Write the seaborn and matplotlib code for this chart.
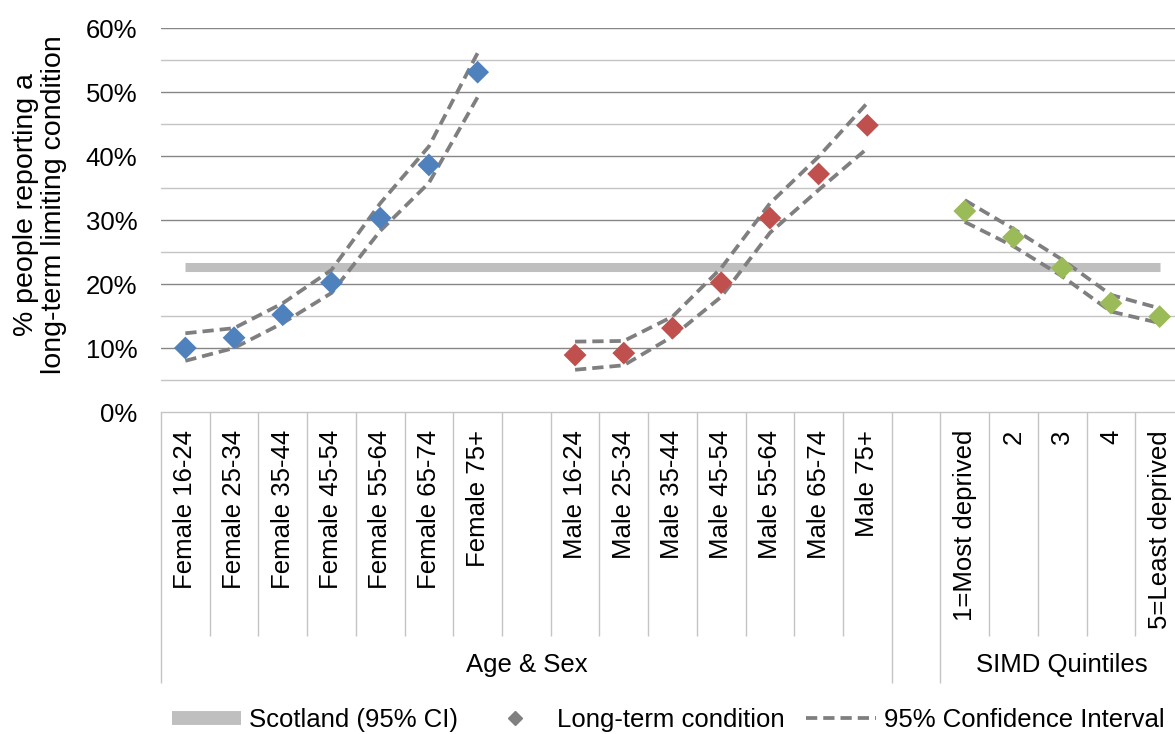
import matplotlib
matplotlib.use('Agg')
import matplotlib.pyplot as plt
import numpy as np
import pandas as pd
import seaborn as sns
from matplotlib.lines import Line2D
from matplotlib.ticker import FixedLocator, PercentFormatter, NullFormatter

# ---- data (percent) ----
categories = [
  'Female 16-24', 'Female 25-34', 'Female 35-44', 'Female 45-54',
  'Female 55-64', 'Female 65-74', 'Female 75+', '',
  'Male 16-24', 'Male 25-34', 'Male 35-44', 'Male 45-54',
  'Male 55-64', 'Male 65-74', 'Male 75+', '',
  '1=Most deprived', '2', '3', '4', '5=Least deprived',
]
groups = ['Female'] * 7 + [None] + ['Male'] * 7 + [None] + ['SIMD'] * 5

female_val = [10.0, 11.6, 15.2, 20.2, 30.3, 38.6, 53.1]
female_lo = [8.0, 10.0, 13.9, 18.6, 28.3, 35.8, 49.2]
female_hi = [12.3, 13.1, 17.0, 22.2, 32.6, 41.5, 56.1]

male_val = [8.9, 9.2, 13.1, 20.2, 30.3, 37.2, 44.8]
male_lo = [6.6, 7.3, 11.8, 18.0, 28.0, 34.7, 41.2]
male_hi = [11.0, 11.1, 14.9, 22.5, 32.6, 39.9, 48.3]

simd_val = [31.4, 27.3, 22.5, 17.0, 14.9]
simd_lo = [29.7, 25.9, 21.2, 15.7, 13.9]
simd_hi = [33.1, 28.6, 23.8, 18.3, 16.2]

scotland = 22.6

group_labels = ['Age & Sex', 'SIMD Quintiles']

# ---- frames ----
rows = []
ci_rows = []
for g, val, lo, hi in [('Female', female_val, female_lo, female_hi),
                       ('Male', male_val, male_lo, male_hi),
                       ('SIMD', simd_val, simd_lo, simd_hi)]:
  pos = [i for i, gg in enumerate(groups) if gg == g]
  for p, v, l, h in zip(pos, val, lo, hi):
    rows.append({'pos': p, 'value': v, 'group': g})
    ci_rows.append({'pos': p, 'value': l, 'series': g + ' lower'})
    ci_rows.append({'pos': p, 'value': h, 'series': g + ' upper'})
points = pd.DataFrame(rows)
ci = pd.DataFrame(ci_rows)
scot = pd.DataFrame({'pos': [0, len(categories) - 1], 'value': [scotland] * 2})

palette = {'Female': '#4F81BD', 'Male': '#C0504D', 'SIMD': '#9BBB59'}

sns.set_theme(style='white')
plt.rcParams.update({
  'font.family': ['Liberation Sans', 'DejaVu Sans'],
  'font.size': 18.5,
  'text.color': 'black',
  'xtick.color': 'black',
  'ytick.color': 'black',
})

W, H = 1175, 734
fig = plt.figure(figsize=(W / 100, H / 100), dpi=100)
left, right, top, bottom = 161, 1184, 28, 412
ax = fig.add_axes([left / W, 1 - bottom / H, (right - left) / W, (bottom - top) / H])

sns.lineplot(data=scot, x='pos', y='value', ax=ax, color='#BFBFBF',
             linewidth=6.5, solid_capstyle='butt', zorder=3)
sns.lineplot(data=ci, x='pos', y='value', units='series', estimator=None, ax=ax,
             color='#7F7F7F', linewidth=2.7, linestyle=(0, (3.0, 1.6)), zorder=4)
sns.scatterplot(data=points, x='pos', y='value', hue='group', palette=palette,
                marker='D', s=135, linewidth=0, ax=ax, legend=False, zorder=5)

ax.set_xlim(-0.5, len(categories) - 0.5)
ax.set_ylim(0, 60)
ax.set_xlabel('')
ax.set_ylabel('')

# y axis
ax.yaxis.set_major_locator(FixedLocator(np.arange(0, 61, 10)))
ax.yaxis.set_minor_locator(FixedLocator(np.arange(5, 60, 10)))
ax.yaxis.set_major_formatter(PercentFormatter(100, decimals=0))
ax.tick_params(axis='y', which='both', left=False, length=0, pad=17,
               labelsize=18.5, labelcolor='black')
ax.grid(True, axis='y', which='major', color='#868686', linewidth=1.0)
ax.grid(True, axis='y', which='minor', color='#C4C4C4', linewidth=1.0)
ax.get_ygridlines()[0].set_visible(False)

# x axis: category boundary ticks, longer at group boundaries
bounds = np.arange(-0.5, len(categories), 1.0)
group_bounds = [-0.5, 14.5, 15.5, 20.5]
ax.xaxis.set_major_locator(FixedLocator(group_bounds))
ax.xaxis.set_minor_locator(FixedLocator([b for b in bounds if b not in group_bounds]))
ax.xaxis.set_major_formatter(NullFormatter())
ax.xaxis.set_minor_formatter(NullFormatter())
ax.tick_params(axis='x', which='major', bottom=True, length=195, width=1.0,
               color='#C4C4C4', direction='out')
ax.tick_params(axis='x', which='minor', bottom=True, length=161, width=1.0,
               color='#C4C4C4', direction='out')

for s in ['left', 'right', 'top']:
  ax.spines[s].set_visible(False)
ax.spines['bottom'].set_color('#C4C4C4')
ax.spines['bottom'].set_linewidth(1.0)

for i, lab in enumerate(categories):
  if lab:
    ax.annotate(lab, xy=(i, 0), xycoords=('data', 'axes fraction'),
                xytext=(0, -13), textcoords='offset points',
                rotation=90, ha='center', va='top', fontsize=18.5, color='black')

ax.annotate(group_labels[0], xy=(7, 0), xycoords=('data', 'axes fraction'),
            xytext=(0, -182), textcoords='offset points', ha='center', va='center',
            fontsize=18.5, color='black')
ax.annotate(group_labels[1], xy=(18, 0), xycoords=('data', 'axes fraction'),
            xytext=(0, -182), textcoords='offset points', ha='center', va='center',
            fontsize=18.5, color='black')

fig.text(40 / W, 1 - 205 / H, '% people reporting a\nlong-term limiting condition',
         rotation=90, ha='center', va='center', multialignment='center', fontsize=20.5,
         linespacing=1.1, color='black')

handles = [
  Line2D([], [], color='#BFBFBF', linewidth=10, solid_capstyle='butt'),
  Line2D([], [], color='#808080', marker='D', linestyle='none', markersize=7),
  Line2D([], [], color='#7F7F7F', linewidth=2.7, linestyle=(0, (3.0, 1.6))),
]
fig.legend(handles, ['Scotland (95% CI)', 'Long-term condition', '95% Confidence Interval'],
           loc='center left', bbox_to_anchor=(172 / W, 1 - 720 / H), ncol=3,
           frameon=False, borderpad=0, borderaxespad=0, handlelength=2.7,
           handletextpad=0.3, columnspacing=0.85, fontsize=18.5, labelcolor='black')

fig.savefig('out.png', dpi=100)
